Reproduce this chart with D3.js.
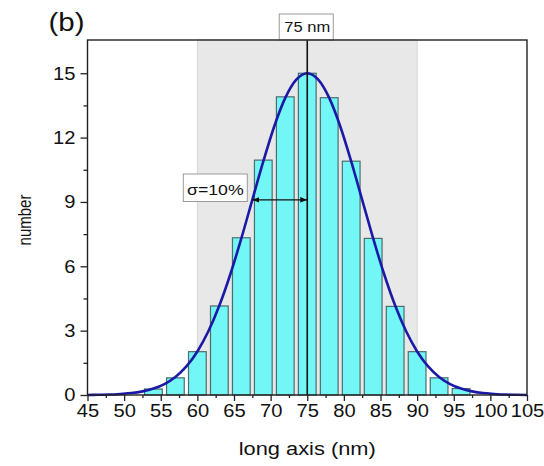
<!DOCTYPE html>
<html>
<head>
<meta charset="utf-8">
<script src="https://cdn.jsdelivr.net/npm/d3@7"></script>
<style>
  body { margin: 0; background: #fff; }
  text { font-family: "Liberation Sans", Arial, sans-serif; fill: #111; }
</style>
</head>
<body>
<div id="chart"></div>
<script>
// Histogram of the long axis
const binCenters = [54, 57, 60, 63, 66, 69, 72, 75, 78, 81, 84, 87, 90, 93, 96];
const counts = [0.28, 0.8, 2.02, 4.15, 7.33, 10.95, 13.9, 15.0, 13.86, 10.9, 7.3, 4.13, 2.02, 0.8, 0.3];

// Gaussian fit line, every 1.5 nm
const fitX = [45, 46.5, 48, 49.5, 51, 52.5, 54, 55.5, 57, 58.5, 60, 61.5, 63, 64.5, 66, 67.5, 69, 70.5, 72, 73.5,
  75, 76.5, 78, 79.5, 81, 82.5, 84, 85.5, 87, 88.5, 90, 91.5, 93, 94.5, 96, 97.5, 99, 100.5, 102, 103.5, 105];
const fitY = [0.0, 0.01, 0.02, 0.05, 0.09, 0.17, 0.30, 0.51, 0.84, 1.33, 2.03, 2.97, 4.17, 5.63, 7.30, 9.10, 10.89, 12.53, 13.85, 14.70,
  15.0, 14.70, 13.85, 12.53, 10.89, 9.10, 7.30, 5.63, 4.17, 2.97, 2.03, 1.33, 0.84, 0.51, 0.30, 0.17, 0.09, 0.05, 0.02, 0.01, 0.0];

const xTickValues = [45, 50, 55, 60, 65, 70, 75, 80, 85, 90, 95, 100, 105];
const yTickValues = [0, 3, 6, 9, 12, 15];
const xMinorValues = [47.5, 52.5, 57.5, 62.5, 67.5, 72.5, 77.5, 82.5, 87.5, 92.5, 97.5, 102.5];
const yMinorValues = [1.5, 4.5, 7.5, 10.5, 13.5];

const band = [60, 90];          // shaded region
const peak = 75;                // mean
const sigmaSpan = [67.5, 75];   // arrow for sigma
const sigmaLevel = 9.1;
const peakLabel = "75 nm";
const sigmaLabel = "σ=10%";

const width = 544, height = 466;
const margin = {top: 40, right: 17, bottom: 71, left: 87.5};
const barWidth = 2.42;
const stretch = 1.18;      // the picture's lettering is a bit wide
const tickStretch = 1.1;

const svg = d3.select('#chart').append('svg')
    .attr('width', width)
    .attr('height', height);

const x = d3.scaleLinear().domain([45, 105]).range([margin.left, width - margin.right]);
const y = d3.scaleLinear().domain([0, 16.55]).range([height - margin.bottom, margin.top]);

// widen a text around its own anchor
function widen(sel, k) {
  sel.each(function() {
    const t = d3.select(this);
    const tx = +t.attr('x') || 0, ty = +t.attr('y') || 0;
    t.attr('transform', `translate(${tx},${ty}) scale(${k},1) translate(${-tx},${-ty})`);
  });
}

// grey band
svg.append('rect')
    .attr('x', x(band[0]))
    .attr('y', y.range()[1])
    .attr('width', x(band[1]) - x(band[0]))
    .attr('height', y.range()[0] - y.range()[1])
    .attr('fill', '#e8e8e8')
    .attr('stroke', '#d6d6d6');

// bars
svg.append('g').selectAll('rect')
    .data(binCenters)
    .enter().append('rect')
    .attr('x', d => x(d - barWidth / 2))
    .attr('y', (d, i) => y(counts[i]))
    .attr('width', x(barWidth) - x(0))
    .attr('height', (d, i) => y(0) - y(counts[i]))
    .attr('fill', '#72f6f6')
    .attr('stroke', '#4e6d6d')
    .attr('stroke-width', 1.2);

// fit line
const line = d3.line()
    .x(d => x(d[0]))
    .y(d => y(d[1]))
    .curve(d3.curveMonotoneX);

svg.append('path')
    .datum(fitX.map((v, i) => [v, fitY[i]]))
    .attr('d', line)
    .attr('fill', 'none')
    .attr('stroke', '#1a1aa6')
    .attr('stroke-width', 2.6);

// centre line
svg.append('line')
    .attr('x1', x(peak)).attr('x2', x(peak))
    .attr('y1', y.range()[1]).attr('y2', y(0))
    .attr('stroke', '#111')
    .attr('stroke-width', 1.6);

// sigma arrow
const defs = svg.append('defs');
['start', 'end'].forEach(k => {
  defs.append('marker')
      .attr('id', 'arr-' + k)
      .attr('viewBox', '0 0 10 10')
      .attr('refX', k === 'end' ? 10 : 0)
      .attr('refY', 5)
      .attr('markerWidth', 7)
      .attr('markerHeight', 7)
      .attr('markerUnits', 'userSpaceOnUse')
      .attr('orient', 'auto')
    .append('path')
      .attr('d', k === 'end' ? 'M0,1L10,5L0,9Z' : 'M10,1L0,5L10,9Z')
      .attr('fill', '#111');
});

svg.append('line')
    .attr('x1', x(sigmaSpan[0])).attr('x2', x(sigmaSpan[1]))
    .attr('y1', y(sigmaLevel)).attr('y2', y(sigmaLevel))
    .attr('stroke', '#111')
    .attr('stroke-width', 1.3)
    .attr('marker-start', 'url(#arr-start)')
    .attr('marker-end', 'url(#arr-end)');

// label boxes
function labelBox(cx, baseline, txt, size, box) {
  svg.append('rect')
      .attr('x', box[0]).attr('y', box[1])
      .attr('width', box[2]).attr('height', box[3])
      .attr('fill', '#fff')
      .attr('stroke', '#9a9a9a')
      .attr('stroke-width', 1);
  svg.append('text')
      .attr('x', cx).attr('y', baseline)
      .attr('text-anchor', 'middle')
      .style('font-size', size + 'px')
      .text(txt)
      .call(widen, stretch);
}
labelBox(x(peak), 32.5, peakLabel, 14, [x(peak) - 28, 14, 54, 26]);
labelBox(215.3, 195, sigmaLabel, 15, [183.3, 174, 64, 27.5]);

// axes
svg.append('g')
    .attr('transform', `translate(0,${y(0)})`)
    .call(d3.axisBottom(x).tickValues(xTickValues).tickSize(6).tickPadding(3.5).tickSizeOuter(0));
svg.append('g')
    .attr('transform', `translate(0,${y(0)})`)
    .call(d3.axisBottom(x).tickValues(xMinorValues).tickSize(3).tickFormat('').tickSizeOuter(0));

svg.append('g')
    .attr('transform', `translate(${margin.left},0)`)
    .call(d3.axisLeft(y).tickValues(yTickValues).tickSize(7).tickPadding(5).tickSizeOuter(0));
svg.append('g')
    .attr('transform', `translate(${margin.left},0)`)
    .call(d3.axisLeft(y).tickValues(yMinorValues).tickSize(4).tickFormat('').tickSizeOuter(0));

svg.selectAll('.domain').remove();
svg.selectAll('.tick line').attr('stroke', '#222').attr('stroke-width', 1.3);
svg.selectAll('.tick text')
    .style('font-size', '18.3px')
    .attr('fill', '#111')
    .call(widen, tickStretch);

// frame
svg.append('rect')
    .attr('x', margin.left).attr('y', margin.top)
    .attr('width', width - margin.left - margin.right)
    .attr('height', height - margin.top - margin.bottom)
    .attr('fill', 'none')
    .attr('stroke', '#222')
    .attr('stroke-width', 1.4);

// axis titles
svg.append('text')
    .attr('x', x(75)).attr('y', 455)
    .attr('text-anchor', 'middle')
    .style('font-size', '18.5px')
    .text('long axis (nm)')
    .call(widen, stretch);

svg.append('text')
    .attr('transform', `translate(31,220) scale(1.22,1) rotate(-90)`)
    .attr('text-anchor', 'middle')
    .style('font-size', '15px')
    .text('number');

svg.append('text')
    .attr('x', 48.5).attr('y', 31.5)
    .style('font-size', '25px')
    .text('(b)')
    .call(widen, stretch);
</script>
</body>
</html>
